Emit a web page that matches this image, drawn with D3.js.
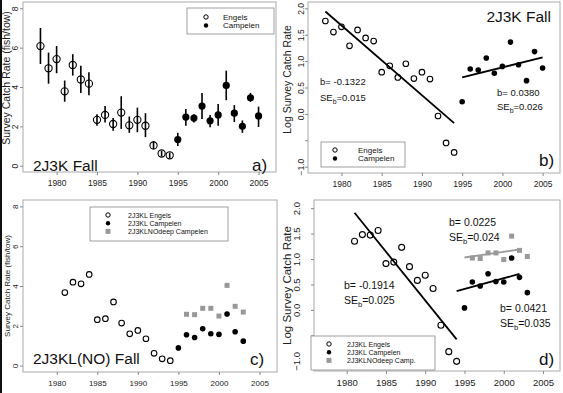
<!DOCTYPE html>
<html>
<head>
<meta charset="utf-8">
<script src="https://cdn.jsdelivr.net/npm/d3@7"></script>
<style>
body { margin: 0; background: #fff; }
text { font-family: "Liberation Sans", Arial, sans-serif; }
</style>
</head>
<body>
<svg id="chart" width="563" height="393"></svg>
<script>
// ---- data ----
var yearTicks = [1980, 1985, 1990, 1995, 2000, 2005];

// a) 2J3K Fall, catch rate with error bars
var engelsYearsA = [1978, 1979, 1980, 1981, 1982, 1983, 1984, 1985, 1986, 1987, 1988, 1989, 1990, 1991, 1992, 1993, 1994];
var engelsRateA = [6.08, 4.95, 5.42, 3.78, 5.12, 4.38, 4.17, 2.33, 2.58, 2.12, 2.70, 2.05, 2.33, 2.03, 1.03, 0.62, 0.53];
var engelsLoA = [5.17, 4.17, 4.70, 3.25, 4.58, 3.70, 3.58, 2.03, 2.20, 1.78, 1.87, 1.67, 1.70, 1.45, 0.83, 0.47, 0.38];
var engelsHiA = [7.00, 5.75, 6.08, 4.33, 5.67, 5.08, 4.75, 2.62, 3.03, 2.42, 3.53, 2.50, 2.95, 2.67, 1.25, 0.75, 0.67];
var campYearsA = [1995, 1996, 1997, 1998, 1999, 2000, 2001, 2002, 2003, 2004, 2005];
var campRateA = [1.33, 2.47, 2.42, 3.03, 2.28, 2.58, 4.08, 2.67, 2.00, 3.45, 2.53];
var campLoA = [1.00, 2.03, 2.20, 2.37, 1.95, 2.03, 3.33, 2.22, 1.67, 3.25, 1.97];
var campHiA = [1.67, 2.88, 2.62, 3.70, 2.58, 3.13, 4.83, 3.08, 2.30, 3.70, 3.00];

// b) 2J3K Fall, log catch rate
var engelsLogB = [1.76, 1.55, 1.65, 1.29, 1.59, 1.44, 1.38, 0.79, 0.91, 0.69, 0.95, 0.67, 0.79, 0.66, -0.04, -0.55, -0.73];
var campLogB = [0.23, 0.85, 0.83, 1.06, 0.77, 0.90, 1.36, 0.93, 0.63, 1.18, 0.87];
var fitsB = [
  { from: 1978, to: 1994, start: 1.94, slope: -0.1322, color: "#000" },
  { from: 1995, to: 2005, start: 0.69, slope: 0.0380, color: "#000" }
];

// c) 2J3KL(NO) Fall, catch rate
var engelsYearsC = [1981, 1982, 1983, 1984, 1985, 1986, 1987, 1988, 1989, 1990, 1991, 1992, 1993, 1994];
var engelsRateC = [3.67, 4.19, 4.11, 4.58, 2.31, 2.36, 3.20, 2.14, 1.60, 1.77, 1.35, 0.62, 0.34, 0.25];
var campYearsC = [1995, 1996, 1997, 1998, 1999, 2000, 2001, 2002, 2003];
var campRateC = [0.89, 1.55, 1.41, 1.85, 1.60, 1.57, 2.59, 1.70, 1.23];
var deepYearsC = [1996, 1997, 1998, 1999, 2000, 2001, 2002, 2003];
var deepRateC = [2.58, 2.56, 2.88, 2.88, 2.49, 4.03, 2.98, 2.69];

// d) 2J3KL(NO) Fall, log catch rate
var engelsLogD = [1.35, 1.48, 1.47, 1.56, 0.91, 0.94, 1.23, 0.85, 0.58, 0.68, 0.42, -0.30, -0.82, -1.01];
var campLogD = [0.04, 0.55, 0.47, 0.71, 0.56, 0.55, 1.02, 0.64, 0.34];
var deepLogD = [1.02, 1.01, 1.12, 1.12, 0.99, 1.45, 1.17, 1.05];
var fitsD = [
  { from: 1981, to: 1994, start: 1.91, slope: -0.1914, color: "#000" },
  { from: 1994, to: 2002, start: 0.37, slope: 0.0421, color: "#000" },
  { from: 1995, to: 2002, start: 1.03, slope: 0.0225, color: "#999" }
];

var svg = d3.select("#chart");
var xDomain = [1975.84, 2007.16];
var grey = "#999";

svg.append("rect").attr("x", 0).attr("y", 0).attr("width", 563).attr("height", 393).attr("fill", "#fff");
svg.append("rect").attr("x", 0).attr("y", 0).attr("width", 2).attr("height", 393).attr("fill", "#111");

function zip(xs, ys) { return xs.map(function (d, i) { return { year: d, v: ys[i] }; }); }

function panel(cfg) {
  var x = d3.scaleLinear().domain(xDomain).range([cfg.x0, cfg.x1]);
  var y = d3.scaleLinear().domain(cfg.yDomain).range([cfg.y1, cfg.y0]);
  var g = svg.append("g");

  g.append("rect")
    .attr("x", cfg.x0).attr("y", cfg.y0)
    .attr("width", cfg.x1 - cfg.x0).attr("height", cfg.y1 - cfg.y0)
    .attr("fill", "none").attr("stroke", "#aaa").attr("stroke-width", 1);

  var xa = g.append("g")
    .attr("transform", "translate(0," + cfg.y1 + ")")
    .call(d3.axisBottom(x).tickValues(yearTicks).tickFormat(d3.format("d")).tickSize(3).tickPadding(5));
  xa.select(".domain").remove();
  xa.selectAll("line").attr("stroke", "#888");
  xa.selectAll("text").attr("font-size", cfg.tickFont).attr("fill", "#222").attr("font-family", "Liberation Sans, Arial, sans-serif");

  var ya = g.append("g")
    .attr("transform", "translate(" + cfg.x0 + ",0)")
    .call(d3.axisLeft(y).tickValues(cfg.yTicks).tickFormat(cfg.yFormat).tickSize(3));
  ya.select(".domain").remove();
  ya.selectAll("line").attr("stroke", "#888");
  ya.selectAll("text")
    .attr("x", 0).attr("y", -cfg.yLabelOffset).attr("dy", 0)
    .attr("text-anchor", "middle")
    .attr("transform", "rotate(-90)")
    .attr("font-size", cfg.tickFont).attr("fill", "#222")
    .attr("font-family", "Liberation Sans, Arial, sans-serif");

  g.append("text")
    .attr("transform", "translate(" + cfg.titleX + "," + ((cfg.y0 + cfg.y1) / 2 + cfg.titleShift) + ") rotate(-90)")
    .attr("text-anchor", "middle")
    .attr("font-size", cfg.titleFont).attr("fill", "#222")
    .text(cfg.yTitle);

  return { g: g, x: x, y: y };
}

function openCircles(p, pts, r) {
  p.g.append("g").selectAll("circle").data(pts).enter().append("circle")
    .attr("cx", function (d) { return p.x(d.year); })
    .attr("cy", function (d) { return p.y(d.v); })
    .attr("r", r).attr("fill", "none").attr("stroke", "#000").attr("stroke-width", 1.1);
}
function filledCircles(p, pts, r) {
  p.g.append("g").selectAll("circle").data(pts).enter().append("circle")
    .attr("cx", function (d) { return p.x(d.year); })
    .attr("cy", function (d) { return p.y(d.v); })
    .attr("r", r).attr("fill", "#000");
}
function squares(p, pts, s) {
  p.g.append("g").selectAll("rect").data(pts).enter().append("rect")
    .attr("x", function (d) { return p.x(d.year) - s / 2; })
    .attr("y", function (d) { return p.y(d.v) - s / 2; })
    .attr("width", s).attr("height", s).attr("fill", grey);
}
function errorBars(p, years, lo, hi) {
  p.g.append("g").selectAll("line").data(years).enter().append("line")
    .attr("x1", function (d) { return p.x(d); })
    .attr("x2", function (d) { return p.x(d); })
    .attr("y1", function (d, i) { return p.y(lo[i]); })
    .attr("y2", function (d, i) { return p.y(hi[i]); })
    .attr("stroke", "#000").attr("stroke-width", 1.6);
}
function fitLines(p, fits) {
  p.g.append("g").selectAll("line").data(fits).enter().append("line")
    .attr("x1", function (d) { return p.x(d.from); })
    .attr("x2", function (d) { return p.x(d.to); })
    .attr("y1", function (d) { return p.y(d.start); })
    .attr("y2", function (d) { return p.y(d.start + d.slope * (d.to - d.from)); })
    .attr("stroke", function (d) { return d.color; }).attr("stroke-width", 1.8);
}
function label(p, x, y, txt, size, anchor) {
  return p.g.append("text").attr("x", x).attr("y", y)
    .attr("font-size", size).attr("fill", "#111")
    .attr("text-anchor", anchor || "start").text(txt);
}
function seLabel(p, x, y, val, size) {
  var t = p.g.append("text").attr("x", x).attr("y", y).attr("font-size", size).attr("fill", "#111");
  t.append("tspan").text("SE");
  t.append("tspan").attr("font-size", size * 0.72).attr("dy", size * 0.3).text("b");
  t.append("tspan").attr("dy", -size * 0.3).text("=" + val);
}
function legend(p, box, items, font) {
  p.g.append("rect").attr("x", box.x).attr("y", box.y).attr("width", box.w).attr("height", box.h)
    .attr("fill", "#fff").attr("stroke", "#888").attr("stroke-width", 0.8);
  items.forEach(function (it, i) {
    var cy = box.y + box.first + i * box.step;
    if (it.kind === "open") {
      p.g.append("circle").attr("cx", box.sx).attr("cy", cy).attr("r", 2.2).attr("fill", "none").attr("stroke", "#000");
    } else if (it.kind === "filled") {
      p.g.append("circle").attr("cx", box.sx).attr("cy", cy).attr("r", 2.2).attr("fill", "#000");
    } else {
      p.g.append("rect").attr("x", box.sx - 2.5).attr("y", cy - 2.5).attr("width", 5).attr("height", 5).attr("fill", grey);
    }
    p.g.append("text").attr("x", box.tx).attr("y", cy + font * 0.36).attr("font-size", font).attr("fill", "#111").text(it.name);
  });
}

// ---- panel a ----
var pa = panel({ x0: 23, x1: 276, y0: 2, y1: 172, yDomain: [-0.32, 8.32], yTicks: [0, 2, 4, 6, 8],
  yFormat: d3.format("d"), tickFont: 8.5, yLabelOffset: 5,
  yTitle: "Survey Catch Rate (fish/tow)", titleX: 10, titleShift: -9, titleFont: 10.5 });
errorBars(pa, engelsYearsA, engelsLoA, engelsHiA);
errorBars(pa, campYearsA, campLoA, campHiA);
openCircles(pa, zip(engelsYearsA, engelsRateA), 3.6);
filledCircles(pa, zip(campYearsA, campRateA), 3.6);
legend(pa, { x: 187, y: 8, w: 87, h: 26, first: 9, step: 8.5, sx: 206, tx: 223 },
  [{ kind: "open", name: "Engels" }, { kind: "filled", name: "Campelen" }], 8);
label(pa, 33, 171, "2J3K Fall", 15.5);
label(pa, 252, 171, "a)", 17);

// ---- panel b ----
var pb = panel({ x0: 308, x1: 560, y0: 2, y1: 173, yDomain: [-1.12, 2.12], yTicks: [-1, -0.5, 0, 0.5, 1, 1.5, 2],
  yFormat: function (d) { return d === -0.5 ? "" : d3.format(".1f")(d); }, tickFont: 8.5, yLabelOffset: 4,
  yTitle: "Log Survey Catch Rate", titleX: 291, titleShift: -8, titleFont: 10.5 });
fitLines(pb, fitsB);
openCircles(pb, zip(engelsYearsA, engelsLogB), 2.8);
filledCircles(pb, zip(campYearsA, campLogB), 2.8);
legend(pb, { x: 321, y: 142, w: 84, h: 25, first: 8, step: 8.5, sx: 335, tx: 358 },
  [{ kind: "open", name: "Engels" }, { kind: "filled", name: "Campelen" }], 8);
label(pb, 320, 84.5, "b= -0.1322", 9.5);
seLabel(pb, 320, 101, "0.015", 9.5);
label(pb, 497, 95.5, "b= 0.0380", 9.5);
seLabel(pb, 497, 110, "0.026", 9.5);
label(pb, 551, 22, "2J3K Fall", 15.5, "end");
label(pb, 539, 166, "b)", 17);

// ---- panel c ----
var pc = panel({ x0: 23, x1: 277, y0: 200, y1: 372, yDomain: [-0.32, 8.32], yTicks: [0, 2, 4, 6, 8],
  yFormat: d3.format("d"), tickFont: 8, yLabelOffset: 5,
  yTitle: "Survey Catch Rate (fish/tow)", titleX: 10, titleShift: 0, titleFont: 8 });
openCircles(pc, zip(engelsYearsC, engelsRateC), 2.8);
filledCircles(pc, zip(campYearsC, campRateC), 2.8);
squares(pc, zip(deepYearsC, deepRateC), 5);
legend(pc, { x: 90, y: 207, w: 138, h: 34, first: 8, step: 8.2, sx: 108, tx: 128 },
  [{ kind: "open", name: "2J3KL Engels" }, { kind: "filled", name: "2J3KL Campelen" }, { kind: "square", name: "2J3KLNOdeep Campelen" }], 7);
label(pc, 33, 364, "2J3KL(NO) Fall", 15.5);
label(pc, 250, 365, "c)", 17);

// ---- panel d ----
var pd = panel({ x0: 314, x1: 560, y0: 200, y1: 371, yDomain: [-1.2, 2.16], yTicks: [-1, -0.5, 0, 0.5, 1, 1.5, 2],
  yFormat: function (d) { return d === -0.5 ? "" : d3.format(".1f")(d); }, tickFont: 9.5, yLabelOffset: 14,
  yTitle: "Log Survey Catch Rate", titleX: 291, titleShift: 0, titleFont: 11.5 });
fitLines(pd, fitsD);
openCircles(pd, zip(engelsYearsC, engelsLogD), 3);
filledCircles(pd, zip(campYearsC, campLogD), 2.8);
squares(pd, zip(deepYearsC, deepLogD), 5);
legend(pd, { x: 311, y: 336, w: 124, h: 34, first: 8, step: 8.2, sx: 329, tx: 347 },
  [{ kind: "open", name: "2J3KL Engels" }, { kind: "filled", name: "2J3KL Campelen" }, { kind: "square", name: "2J3KLNOdeep Camp." }], 7);
label(pd, 344, 289, "b= -0.1914", 10.5);
seLabel(pd, 344, 304, "0.025", 10.5);
label(pd, 449, 226, "b= 0.0225", 10.5);
seLabel(pd, 449, 241, "0.024", 10.5);
label(pd, 500, 312, "b= 0.0421", 10.5);
seLabel(pd, 500, 327, "0.035", 10.5);
label(pd, 539, 365, "d)", 17);
</script>
</body>
</html>
